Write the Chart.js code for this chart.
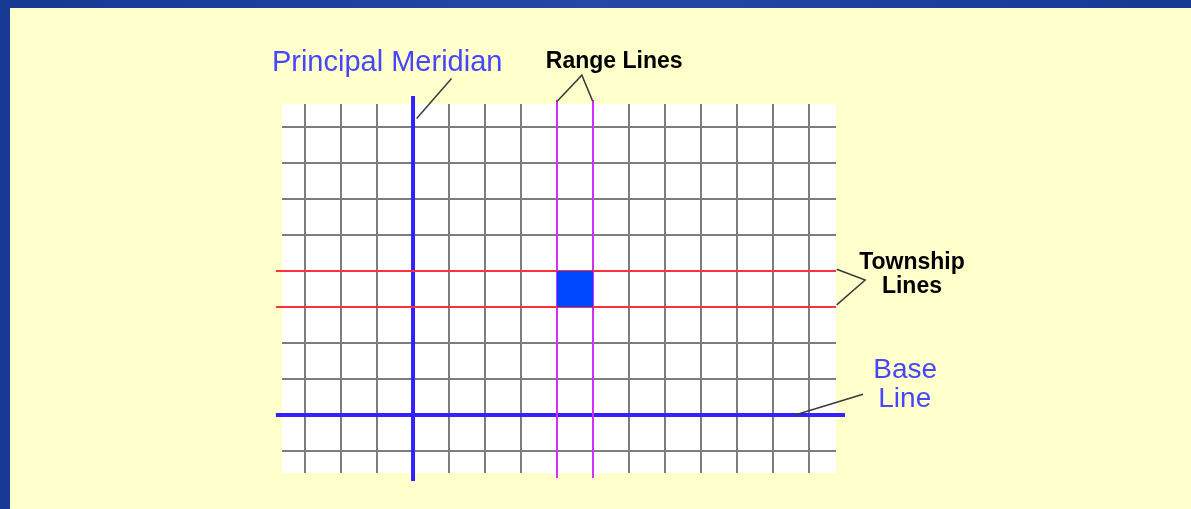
<!DOCTYPE html>
<html lang="en">
<head>
    <meta charset="UTF-8">
    <title>Township and Range Survey Grid</title>
    <script src="https://cdn.jsdelivr.net/npm/chart.js@4.4.1/dist/chart.umd.min.js"></script>
    <style>
        html, body {
            margin: 0;
            padding: 0;
        }
        body {
            width: 1191px;
            height: 509px;
            overflow: hidden;
            position: relative;
            background: linear-gradient(90deg, #173893 0%, #2448a6 50%, #173893 100%);
        }
        #panel {
            position: absolute;
            left: 10px;
            top: 8px;
            right: 0;
            bottom: 0;
            background-color: #ffffcc;
        }
        #gridChart {
            position: absolute;
            left: 0;
            top: 0;
        }
    </style>
</head>
<body>
<div id="panel"></div>
<canvas id="gridChart" width="1191" height="509"></canvas>

<script>
    // grid lines (one unit = one township, six miles)
    var rangeColumns = [1, 2, 3, 4, 5, 6, 7, 8, 9, 10, 11, 12, 13, 14, 15];
    var townshipRows = [1, 2, 3, 4, 5, 6, 7, 8, 9, 10];
    var principalMeridianX = [4];
    var baseLineY = [2];
    var rangeLinesX = [8, 9];
    var townshipLinesY = [5, 6];
    var highlightCellX = [8, 9];
    var highlightCellY = [5, 6];

    // how far each line runs, in grid units
    var view = { xMin: 0.36, xMax: 15.75, yMin: 0.39, yMax: 10.64 };
    var meridianSpan = [0.17, 10.86];
    var baseSpan = [0.19, 16.0];
    var rangeSpan = [0.25, 10.75];
    var townshipSpan = [0.19, 15.75];

    // callout labels and their leader lines, in grid units
    var labels = [
        { text: 'Principal Meridian', x: 0.08, y: 11.57, align: 'left', font: '29px "Liberation Sans", Arial, sans-serif', color: '#4646ff' },
        { text: 'Range Lines', x: 7.69, y: 11.63, align: 'left', font: 'bold 23px "Liberation Sans", Arial, sans-serif', color: '#000000' },
        { text: 'Township', x: 17.86, y: 6.05, align: 'center', font: 'bold 23px "Liberation Sans", Arial, sans-serif', color: '#000000' },
        { text: 'Lines', x: 17.86, y: 5.38, align: 'center', font: 'bold 23px "Liberation Sans", Arial, sans-serif', color: '#000000' },
        { text: 'Base', x: 17.67, y: 3.03, align: 'center', font: '28px "Liberation Sans", Arial, sans-serif', color: '#4646ff' },
        { text: 'Line', x: 17.66, y: 2.22, align: 'center', font: '28px "Liberation Sans", Arial, sans-serif', color: '#4646ff' }
    ];
    var leaders = [
        [[4.10, 10.24], [5.07, 11.35]],
        [[7.99, 10.70], [8.69, 11.44], [8.99, 10.72]],
        [[15.77, 6.05], [16.56, 5.75], [15.77, 5.06]],
        [[14.61, 2.0], [16.5, 2.58]]
    ];

    function lineSet(points, color, width) {
        return {
            type: 'line',
            data: points,
            borderColor: color,
            borderWidth: width,
            pointRadius: 0,
            tension: 0,
            fill: false,
            clip: false
        };
    }

    var datasets = [];

    // highlighted township, filled down to its south line
    datasets.push({
        type: 'line',
        data: [{ x: highlightCellX[0], y: highlightCellY[1] }, { x: highlightCellX[1], y: highlightCellY[1] }],
        borderColor: '#0048ff',
        borderWidth: 0,
        backgroundColor: '#0048ff',
        pointRadius: 0,
        fill: { value: highlightCellY[0] },
        clip: false
    });

    townshipLinesY.forEach(function(y) {
        datasets.push(lineSet([{ x: townshipSpan[0], y: y }, { x: townshipSpan[1], y: y }], '#ff3040', 2));
    });
    rangeLinesX.forEach(function(x) {
        datasets.push(lineSet([{ x: x, y: rangeSpan[0] }, { x: x, y: rangeSpan[1] }], '#d22fff', 2));
    });
    principalMeridianX.forEach(function(x) {
        datasets.push(lineSet([{ x: x, y: meridianSpan[0] }, { x: x, y: meridianSpan[1] }], '#3322ff', 4));
    });
    baseLineY.forEach(function(y) {
        datasets.push(lineSet([{ x: baseSpan[0], y: y }, { x: baseSpan[1], y: y }], '#3322ff', 4));
    });

    var paperPlugin = {
        id: 'paper',
        beforeDraw: function(chart) {
            var a = chart.chartArea;
            var ctx = chart.ctx;
            ctx.save();
            ctx.fillStyle = '#ffffff';
            ctx.fillRect(a.left, a.top, a.right - a.left, a.bottom - a.top);
            ctx.restore();
        }
    };

    var calloutPlugin = {
        id: 'callouts',
        afterDraw: function(chart) {
            var ctx = chart.ctx;
            var sx = chart.scales.x;
            var sy = chart.scales.y;
            ctx.save();
            ctx.strokeStyle = '#3a3a3a';
            ctx.lineWidth = 1.5;
            leaders.forEach(function(pts) {
                ctx.beginPath();
                pts.forEach(function(p, i) {
                    var px = sx.getPixelForValue(p[0]);
                    var py = sy.getPixelForValue(p[1]);
                    if (i === 0) ctx.moveTo(px, py); else ctx.lineTo(px, py);
                });
                ctx.stroke();
            });
            ctx.textBaseline = 'alphabetic';
            labels.forEach(function(l) {
                ctx.font = l.font;
                ctx.fillStyle = l.color;
                ctx.textAlign = l.align;
                ctx.fillText(l.text, sx.getPixelForValue(l.x), sy.getPixelForValue(l.y));
            });
            ctx.restore();
        }
    };

    function gridScale(min, max, values) {
        return {
            type: 'linear',
            min: min,
            max: max,
            afterBuildTicks: function(scale) {
                scale.ticks = values.map(function(v) { return { value: v }; });
            },
            grid: { color: '#7c7c7c', lineWidth: 2, drawTicks: false },
            border: { display: false },
            ticks: { display: false }
        };
    }

    new Chart(document.getElementById('gridChart'), {
        type: 'scatter',
        data: { datasets: datasets },
        options: {
            responsive: false,
            animation: false,
            layout: { padding: { left: 282, top: 104, right: 355, bottom: 36 } },
            scales: {
                x: gridScale(view.xMin, view.xMax, rangeColumns),
                y: gridScale(view.yMin, view.yMax, townshipRows)
            },
            plugins: {
                legend: { display: false },
                tooltip: { enabled: false }
            }
        },
        plugins: [paperPlugin, calloutPlugin]
    });
</script>
</body>
</html>
